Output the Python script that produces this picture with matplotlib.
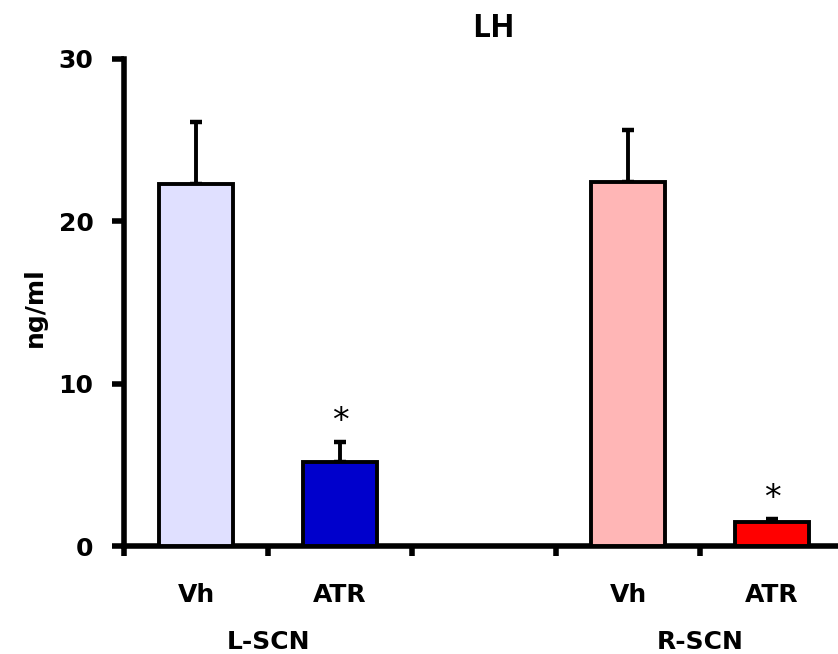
import numpy as np
import matplotlib.pyplot as plt
import matplotlib.transforms as mtransforms

plt.rcParams['font.family'] = ['DejaVu Sans']
plt.rcParams['font.weight'] = 'bold'

# data
groups = ['L-SCN', 'R-SCN']
treatments = ['Vh', 'ATR', 'Vh', 'ATR']
means = [22.3, 5.2, 22.45, 1.45]
sems = [3.8, 1.2, 3.15, 0.2]
signif = ['', '*', '', '*']
colors = ['#E0E0FF', '#0000CC', '#FFB6B6', '#FF0000']

# two groups of two bars with an empty slot between them
x = np.array([0, 1, 3, 4])

fig = plt.figure(figsize=(8.38, 6.54), dpi=100)
ax = fig.add_axes([124 / 838, 108 / 654, 720 / 838, 487 / 654])

ax.bar(x, means, width=0.51, color=colors, edgecolor='black', linewidth=2.8, zorder=3)
ax.errorbar(x, means, yerr=[np.zeros(len(sems)), sems], fmt='none', ecolor='black',
            elinewidth=2.8, capsize=4.6, capthick=3.2, zorder=2)

for xi, m, s, t in zip(x, means, sems, signif):
    if t:
        ax.annotate(t, (xi, m + s), xytext=(0, 8), textcoords='offset points',
                    ha='center', va='baseline', fontsize=24, fontweight='normal')

ax.set_xlim(-0.5, 4.5)
ax.set_ylim(0, 30)
ax.set_yticks([0, 10, 20, 30])

ax.set_xticks(x)
ax.set_xticklabels(treatments, fontweight='bold')
ax.set_xticks(np.arange(-0.5, 4.6, 1), minor=True)
ax.tick_params(axis='x', which='major', length=0, pad=27, labelsize=18)
ax.tick_params(axis='x', which='minor', length=7, width=4, direction='out')
ax.tick_params(axis='y', length=9, width=4, direction='out', labelsize=18, pad=13)
for lbl in ax.get_yticklabels():
    lbl.set_fontweight('bold')

trans = mtransforms.blended_transform_factory(ax.transData, ax.transAxes)
for gx, g in zip([0.5, 3.5], groups):
    ax.text(gx, -0.212, g, transform=trans, ha='center', va='baseline',
            fontsize=18, fontweight='bold')

for side in ['top', 'right']:
    ax.spines[side].set_visible(False)
for side in ['left', 'bottom']:
    ax.spines[side].set_linewidth(4)

fig.text(35 / 838, 1 - 307 / 654, 'ng/ml', rotation=90, ha='center', va='center',
         fontsize=18, fontweight='bold')
fig.text(493 / 838, 1 - 37 / 654, 'LH', ha='center', va='baseline',
         fontsize=23, fontweight='bold', family=['Open Sans', 'DejaVu Sans'])

fig.savefig('out.png', dpi=100)
